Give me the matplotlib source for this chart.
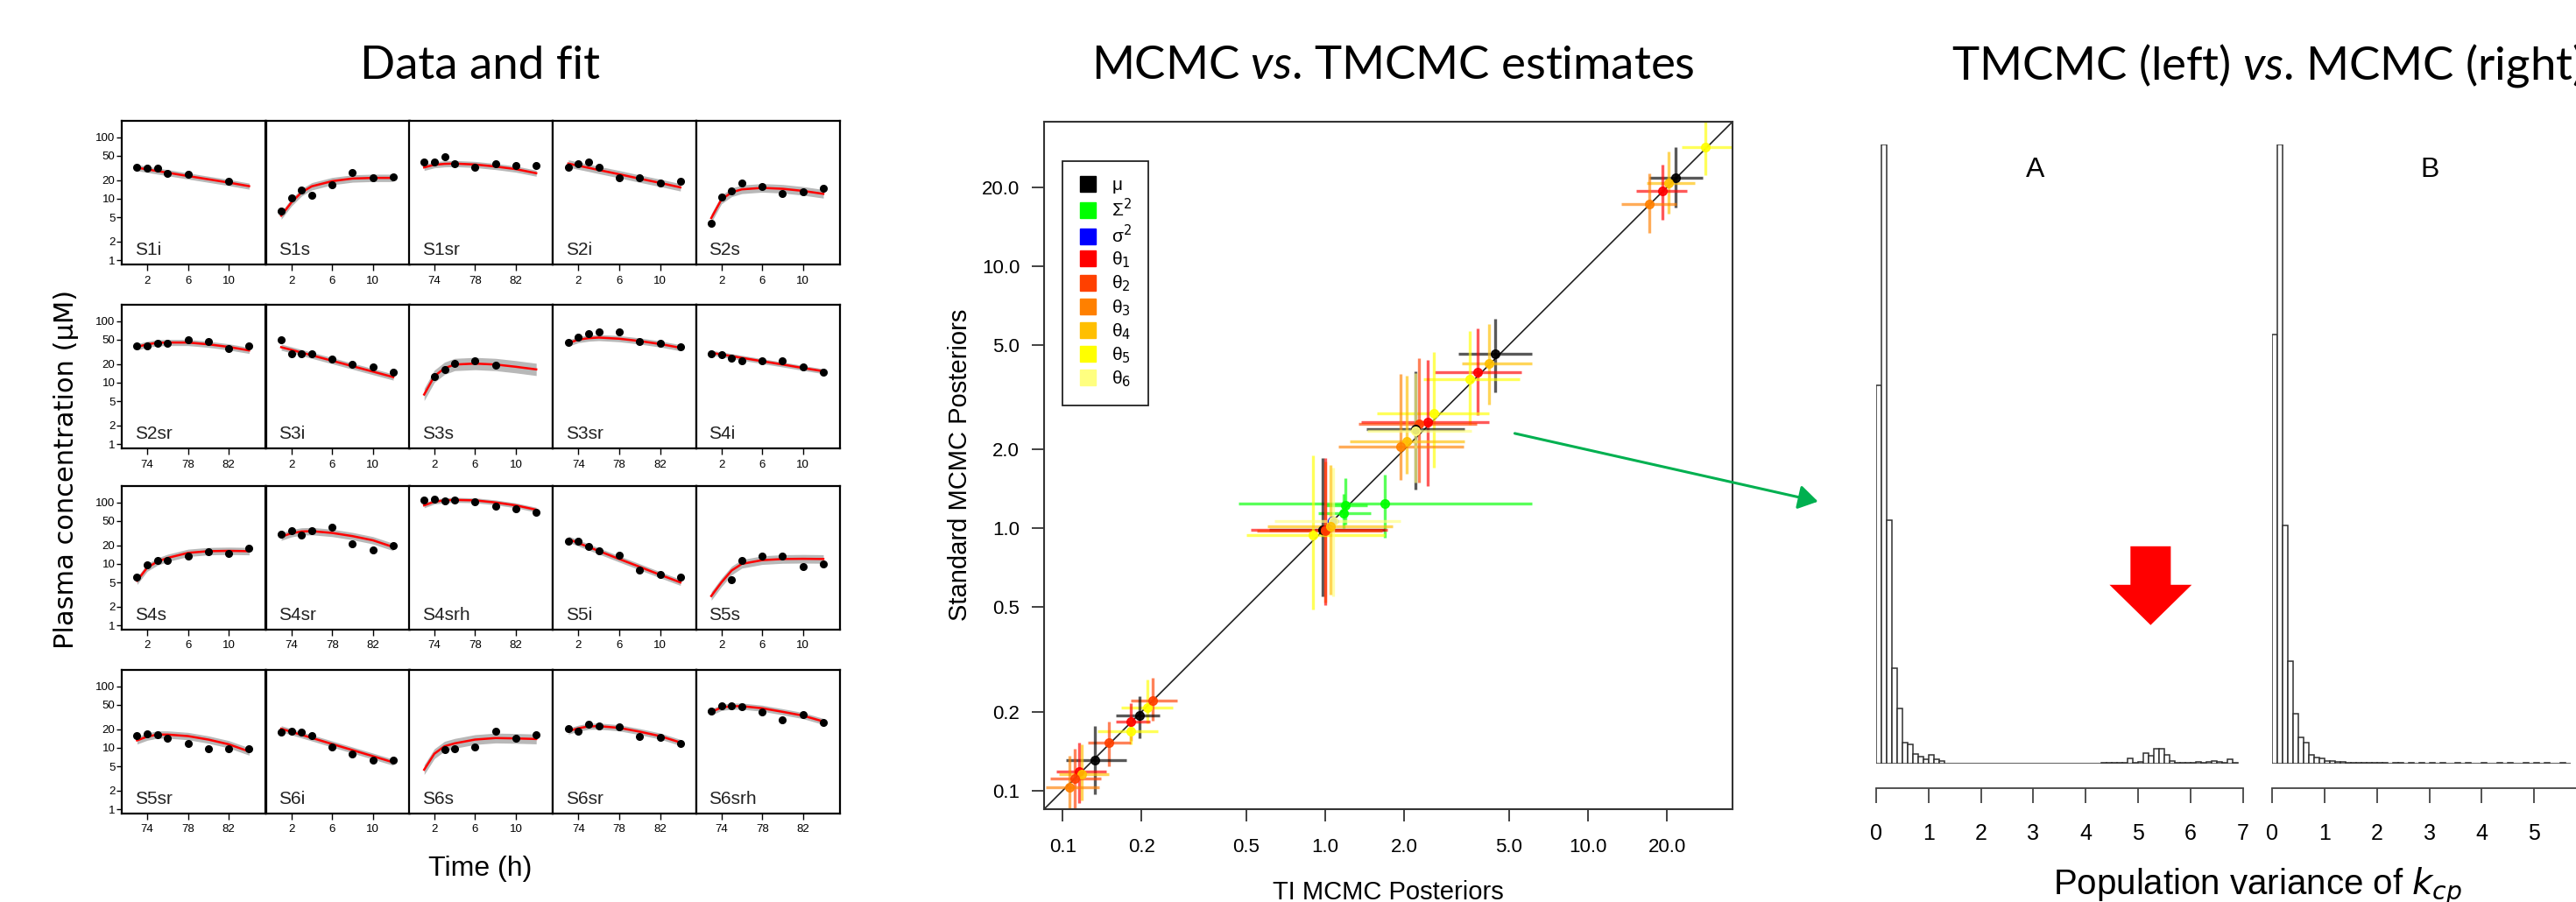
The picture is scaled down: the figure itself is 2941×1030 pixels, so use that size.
import numpy as np
import matplotlib
matplotlib.use("Agg")
import matplotlib.pyplot as plt
from matplotlib.lines import Line2D
from matplotlib.patches import FancyArrow, FancyArrowPatch

W, H = 2941, 1030

# ---- left: data and fit, plasma concentration (uM) ----
panel_names = ["S1i", "S1s", "S1sr", "S2i", "S2s",
               "S2sr", "S3i", "S3s", "S3sr", "S4i",
               "S4s", "S4sr", "S4srh", "S5i", "S5s",
               "S5sr", "S6i", "S6s", "S6sr", "S6srh"]
t_early = [1, 2, 3, 4, 6, 8, 10, 12]
t_late = [73, 74, 75, 76, 78, 80, 82, 84]

obs_conc = [
    [33, 31, 31, 26, 25, None, 19, None],
    [6.2, 10.2, 13.7, 11.4, 17.1, 26.5, 22, 22.5],
    [39, 39.8, 47.5, 37.3, 32.7, 36.5, 34.2, 34.2],
    [32, 36.9, 40.2, 32, 21.8, 22, 18.1, 19.1],
    [4.0, 10.8, 13.2, 17.7, 15.8, 12.3, 13, 14.7],
    [39.4, 40.2, 43.5, 43.5, 50.1, 46.9, 35.7, 39.4],
    [50.1, 29.6, 29.6, 29.6, 24, 19.7, 18.1, 14.7],
    [None, 12.5, 16.4, 20.8, 22.5, 19.1, None, None],
    [44.9, 54.1, 62.4, 67.4, 67.4, 45.9, 43.5, 38.5],
    [29, 28.3, 25.1, 22.8, 23, 23, 18.1, 14.7],
    [6.1, 9.5, 11.2, 11.2, 13.4, 15.6, 14.6, 18.2],
    [30.5, 34.4, 29.9, 34.4, 39.3, 21.2, 16.7, 19.9],
    [110, 113, 107, 110, 103, 87.6, 78.5, 68],
    [23.2, 23.2, 19.4, 16.5, 14, 7.9, 6.8, 6.1],
    [None, None, 5.6, 11.2, 13.4, 13.4, 9.0, 10],
    [15.8, 17.1, 16.4, 14.2, 11.8, 9.5, 9.7, 9.7],
    [18.1, 18.7, 18.1, 15.8, 10.2, 7.9, 6.2, 6.2],
    [None, None, 9.2, 9.7, 10.2, 18.7, 14.2, 16.4],
    [20.8, 18.3, 24, 22.8, 22, 15.5, 14.7, 11.8],
    [39.4, 48.5, 48.5, 46.9, 38.5, 28.3, 34.2, 26],
]

fit_conc = [
    [32, 30, 28.2, 26.5, 23.4, 20.7, 18.3, 16],
    [5.3, 8.7, 12.7, 15.9, 19.3, 21.3, 21.8, 21.8],
    [32.3, 35.7, 36.9, 37.3, 36, 33.4, 30.3, 26],
    [37.3, 34.4, 31.8, 29.3, 25.0, 21.2, 18.1, 15.3],
    [4.85, 9.7, 12.7, 14.2, 15, 14.5, 13.4, 12],
    [38.1, 42, 44.4, 44.9, 44.9, 42, 38.1, 33.4],
    [37.7, 34.1, 30.8, 27.8, 22.7, 18.5, 15.1, 12.3],
    [6.4, 12.7, 17.1, 19.7, 20.4, 19.7, 18.1, 16.4],
    [44, 50.1, 52.9, 54.1, 51.8, 47.5, 42.5, 36.9],
    [30.6, 28.7, 27.0, 25.3, 22.3, 19.7, 17.3, 15.3],
    [5.3, 8.7, 10.9, 12.5, 15.1, 16.1, 16.3, 16.1],
    [27.7, 31.5, 33.7, 34.1, 31.9, 28.3, 24.2, 18.8],
    [89.6, 103, 108, 110, 108, 100, 89.6, 76],
    [25.3, 21.8, 18.8, 16.2, 12.0, 8.95, 6.65, 5.0],
    [3.0, 5.0, 7.8, 10, 11.5, 12, 12.1, 12],
    [13.2, 15.2, 16.4, 16.4, 15.5, 13.6, 11.4, 8.7],
    [20.4, 18.2, 16.2, 14.5, 11.5, 9.17, 7.3, 5.8],
    [4.4, 8.0, 10.6, 11.8, 13.6, 14.4, 14.2, 13.9],
    [18.7, 20.8, 22.3, 22.5, 21.1, 18.3, 15.5, 12.2],
    [38.1, 45.4, 47.5, 47.5, 44, 38.5, 33.4, 26.8],
]

# half width of the grey posterior band, log10 units
band_spread = [0.05, 0.06, 0.05, 0.06, 0.07, 0.05, 0.05, 0.10, 0.05, 0.04,
               0.06, 0.06, 0.04, 0.05, 0.07, 0.06, 0.05, 0.08, 0.05, 0.05]

# ---- middle: TI MCMC (x) vs standard MCMC (y) posteriors ----
param_labels = ["\u03bc", "\u03a3$^2$", "\u03c3$^2$", "\u03b8$_1$", "\u03b8$_2$",
                "\u03b8$_3$", "\u03b8$_4$", "\u03b8$_5$", "\u03b8$_6$"]
param_colors = ["#000000", "#00FF00", "#0000FF", "#FF0000", "#FF4000",
                "#FF8000", "#FFBF00", "#FFFF00", "#FFFF80"]

est_param = [7, 0, 6, 3, 5,
             0, 6, 3, 7,
             7, 3, 4, 0, 6, 5, 8,
             1, 1, 1, 2, 0, 3, 4, 7, 8, 6,
             7, 4, 0, 3, 7, 4, 0, 3, 6, 4, 5]
ti_est = [27.9, 21.5, 20.3, 19.2, 17.1,
          4.42, 4.2, 3.8, 3.55,
          2.58, 2.46, 2.28, 2.2, 2.04, 1.94, 2.2,
          1.69, 1.19, 1.17, 1.06, 0.98, 1.0, 1.0, 0.9, 1.07, 1.05,
          0.21, 0.22, 0.197, 0.182, 0.182, 0.15, 0.133, 0.116, 0.118, 0.111, 0.106]
std_est = [28.3, 21.7, 20.8, 19.3, 17.3,
           4.62, 4.27, 3.94, 3.69,
           2.75, 2.55, 2.51, 2.39, 2.14, 2.05, 2.35,
           1.24, 1.22, 1.14, 1.07, 0.99, 0.99, 0.98, 0.94, 1.07, 1.02,
           0.208, 0.22, 0.193, 0.183, 0.169, 0.152, 0.131, 0.118, 0.116, 0.111, 0.103]
ti_lo = [22.8, 17.1, 16.7, 15.3, 13.4,
         3.22, 3.3, 2.6, 2.36,
         1.57, 1.37, 1.34, 1.43, 1.24, 1.12, 1.45,
         0.467, 1.01, 0.94, 1.0, 0.61, 0.52, 0.55, 0.5, 0.64, 0.6,
         0.167, 0.182, 0.16, 0.16, 0.136, 0.125, 0.103, 0.095, 0.097, 0.09, 0.086]
ti_hi = [35.5, 27.3, 25.6, 23.8, 21.8,
         6.1, 6.1, 5.6, 5.5,
         4.2, 4.2, 3.78, 3.4, 3.4, 3.37, 3.6,
         6.1, 1.45, 1.49, 1.12, 1.69, 1.73, 1.65, 1.69, 1.94, 1.8,
         0.263, 0.273, 0.234, 0.215, 0.23, 0.182, 0.175, 0.147, 0.15, 0.14, 0.138]
std_lo = [22.2, 16.7, 15.8, 15.0, 13.4,
          3.3, 2.96, 2.7, 2.48,
          1.7, 1.45, 1.49, 1.41, 1.61, 1.53, 1.5,
          0.92, 1.03, 1.0, 1.02, 0.55, 0.51, 0.52, 0.49, 0.55, 0.56,
          0.181, 0.185, 0.159, 0.155, 0.15, 0.124, 0.097, 0.09, 0.092, 0.085, 0.085]
std_hi = [35.8, 28.3, 27.3, 24.4, 22.6,
          6.3, 6.0, 5.8, 5.65,
          4.7, 4.4, 4.45, 3.98, 3.82, 3.87, 3.9,
          1.6, 1.55, 1.35, 1.12, 1.85, 1.85, 1.8, 1.9, 1.7, 1.75,
          0.266, 0.27, 0.229, 0.215, 0.19, 0.183, 0.176, 0.153, 0.15, 0.145, 0.136]
ticks_est = [0.1, 0.2, 0.5, 1.0, 2.0, 5.0, 10.0, 20.0]

# ---- right: population variance of k_cp, bin width 0.1 ----
bin_width = 0.1
hist_tmcmc = [432, 707, 278, 109, 63, 24, 22, 11, 8, 5, 10, 5, 3,
              0, 0, 0, 0, 0, 0, 0, 0, 0, 0, 0, 0, 0, 0, 0, 0, 0,
              0, 0, 0, 0, 0, 0, 0, 0, 0, 0, 0, 0, 0,
              1, 1, 1, 1, 1, 6, 1, 2,
              12, 9, 17, 17, 10, 3,
              1, 1, 1, 1, 2, 1, 2, 3, 2, 1, 5, 1]
hist_mcmc = [490, 707, 272, 117, 57, 30, 24, 10, 7, 6, 3, 3, 2, 2,
             1, 1, 1, 1, 1, 1, 1,
             1, 0, 1, 1, 0, 1, 0, 1, 0, 1,
             0, 1, 0, 0, 1, 0, 1, 0, 0, 1,
             0, 0, 1, 0, 1, 0, 0, 1, 0, 1,
             0, 1, 0, 0, 1, 0]

plt.rcParams["font.family"] = ["Liberation Sans", "DejaVu Sans"]
plt.rcParams["mathtext.fontset"] = "dejavusans"
plt.rcParams["mathtext.rm"] = "Lato"
plt.rcParams["mathtext.it"] = "Lato:italic"


def rect(left, top, width, height):
    # pixel box (top-left origin) -> figure fraction
    return [left / W, 1 - (top + height) / H, width / W, height / H]


def fy(y):
    return 1 - y / H


fig = plt.figure(figsize=(W / 100, H / 100), dpi=100)

# ---------------- data and fit grid ----------------
col_left = [139, 303.6, 466.8, 631.4, 794.6]
row_top = [138, 348, 555, 765]
for k, name in enumerate(panel_names):
    r, c = divmod(k, 5)
    ax = fig.add_axes(rect(col_left[c], row_top[r], 164, 164))
    late = name.endswith("sr") or name.endswith("srh")
    t = t_late if late else t_early
    fit = np.array(fit_conc[k])
    f = 10 ** band_spread[k]
    ax.fill_between(t, fit / f, fit * f, color="#b8b8b8", lw=0, zorder=1)
    ax.plot(t, fit, color="red", lw=1.8, zorder=2)
    tt = [ti for ti, v in zip(t, obs_conc[k]) if v is not None]
    vv = [v for v in obs_conc[k] if v is not None]
    ax.plot(tt, vv, "o", color="black", ms=5.5, zorder=3)
    ax.set_yscale("log")
    ax.set_ylim(0.85, 185)
    ax.set_xlim((71.5, 85.6) if late else (-0.5, 13.6))
    ax.set_xticks([74, 78, 82] if late else [2, 6, 10])
    ax.set_yticks([1, 2, 5, 10, 20, 50, 100])
    ax.set_yticklabels(["1", "2", "5", "10", "20", "50", "100"])
    ax.minorticks_off()
    ax.tick_params(axis="x", length=5, width=1, pad=4, labelsize=9.5)
    ax.tick_params(axis="y", length=4, width=1, pad=1.5, labelsize=9.5)
    if c != 0:
        ax.tick_params(axis="y", left=False, labelleft=False)
    for s in ax.spines.values():
        s.set_linewidth(1.6)
    ax.text(0.09, 0.07, name, transform=ax.transAxes, fontsize=15, va="baseline",
            color="#222222")

fig.text(76 / W, fy(536), "Plasma concentration (\u03bcM)", rotation=90, fontsize=22,
         family="DejaVu Sans", ha="center", va="center")
fig.text(548 / W, fy(992), "Time (h)", fontsize=23, ha="center", va="center")

# ---------------- estimates scatter ----------------
ax2 = fig.add_axes(rect(1192, 139, 786, 785))
ax2.set_xscale("log")
ax2.set_yscale("log")
lim = (0.085, 35.5)
ax2.set_xlim(lim)
ax2.set_ylim(lim)
ax2.plot(lim, lim, color="#222222", lw=1.2, zorder=1)
for p, x, y, xl, xh, yl, yh in zip(est_param, ti_est, std_est, ti_lo, ti_hi, std_lo, std_hi):
    col = param_colors[p]
    ax2.errorbar([x], [y], xerr=[[x - xl], [xh - x]], yerr=[[y - yl], [yh - y]],
                 fmt="none", ecolor=col, alpha=0.65, elinewidth=2.4, capsize=0, zorder=2)
    ax2.plot([x], [y], "o", color=col, ms=7, alpha=0.9, zorder=3)
ax2.set_xticks(ticks_est)
ax2.set_yticks(ticks_est)
ax2.set_xticklabels([f"{v:.1f}" for v in ticks_est])
ax2.set_yticklabels([f"{v:.1f}" for v in ticks_est])
ax2.minorticks_off()
ax2.tick_params(axis="x", length=10, width=1.3, pad=14, labelsize=16, color="#333333")
ax2.tick_params(axis="y", length=10, width=1.3, pad=10, labelsize=16, color="#333333")
for s in ax2.spines.values():
    s.set_linewidth(1.5)
    s.set_color("#333333")
handles = [Line2D([], [], ls="none", marker="s", ms=13, color=c) for c in param_colors]
leg = ax2.legend(handles, param_labels, loc="upper left", bbox_to_anchor=(0.027, 0.943),
                 borderaxespad=0, fontsize=15, labelspacing=0.22, handlelength=1.0,
                 handletextpad=0.8, borderpad=0.9, fancybox=False, framealpha=1)
leg.get_frame().set_edgecolor("#222222")
leg.get_frame().set_linewidth(1.3)
fig.text(1096 / W, fy(531), "Standard MCMC Posteriors", rotation=90, fontsize=21,
         ha="center", va="center")
fig.text(1585 / W, fy(1027), "TI MCMC Posteriors", fontsize=21, ha="center", va="baseline")


# ---------------- histograms ----------------
def hist_panel(left, width, counts, xmax, ticks):
    ax = fig.add_axes(rect(left, 165, width, 706.7))
    edges = np.arange(len(counts)) * bin_width
    ax.bar(edges, counts, width=bin_width, align="edge", facecolor="white",
           edgecolor="#303030", lw=1.1)
    ax.set_xlim(0, xmax)
    ax.set_ylim(0, 707)
    for s in ("left", "top", "right"):
        ax.spines[s].set_visible(False)
    ax.spines["bottom"].set_position(("outward", 20.4))
    ax.spines["bottom"].set_bounds(0, xmax)
    ax.spines["bottom"].set_linewidth(1.3)
    ax.spines["bottom"].set_color("#444444")
    ax.set_yticks([])
    ax.set_xticks(ticks)
    ax.set_xticklabels([str(v) for v in ticks])
    ax.tick_params(axis="x", length=12, width=1.3, pad=17, labelsize=18, color="#444444")
    ax.patch.set_visible(False)
    return ax


axA = hist_panel(2142, 418.6, hist_tmcmc, 7, list(range(8)))
axB = hist_panel(2594.2, 346.8, hist_mcmc, 5.8, list(range(6)))
axA.add_patch(FancyArrow(5.24, 248, 0, -90, width=0.77, head_width=1.57, head_length=46,
                         length_includes_head=True, color="#ff0000", lw=0, clip_on=False))
fig.text(2324 / W, fy(194), "A", fontsize=23, ha="center", va="center")
fig.text(2774 / W, fy(194), "B", fontsize=23, ha="center", va="center")
fig.text(2577 / W, fy(1022), r"Population variance of $k_{cp}$", fontsize=29,
         ha="center", va="baseline", math_fontfamily="dejavusans")

# green pointer from the Sigma^2 estimates to the histograms
fig.add_artist(FancyArrowPatch((1726.7 / W, fy(494.3)), (2078.3 / W, fy(573.3)),
                               transform=fig.transFigure,
                               arrowstyle="-|>,head_length=0.45,head_width=0.28",
                               mutation_scale=30, color="#00B050", lw=2.2))

# ---------------- panel titles ----------------
tkw = dict(fontsize=38, family="Lato", va="baseline", math_fontfamily="custom")
fig.text(548 / W, fy(90), "Data and fit", ha="center", **tkw)
fig.text(1590 / W, fy(90), r"MCMC $\mathit{vs}$. TMCMC estimates", ha="center", **tkw)
fig.text(2228 / W, fy(90), r"TMCMC (left) $\mathit{vs}$. MCMC (right)", ha="left", **tkw)

fig.savefig("out.png", dpi=100)
